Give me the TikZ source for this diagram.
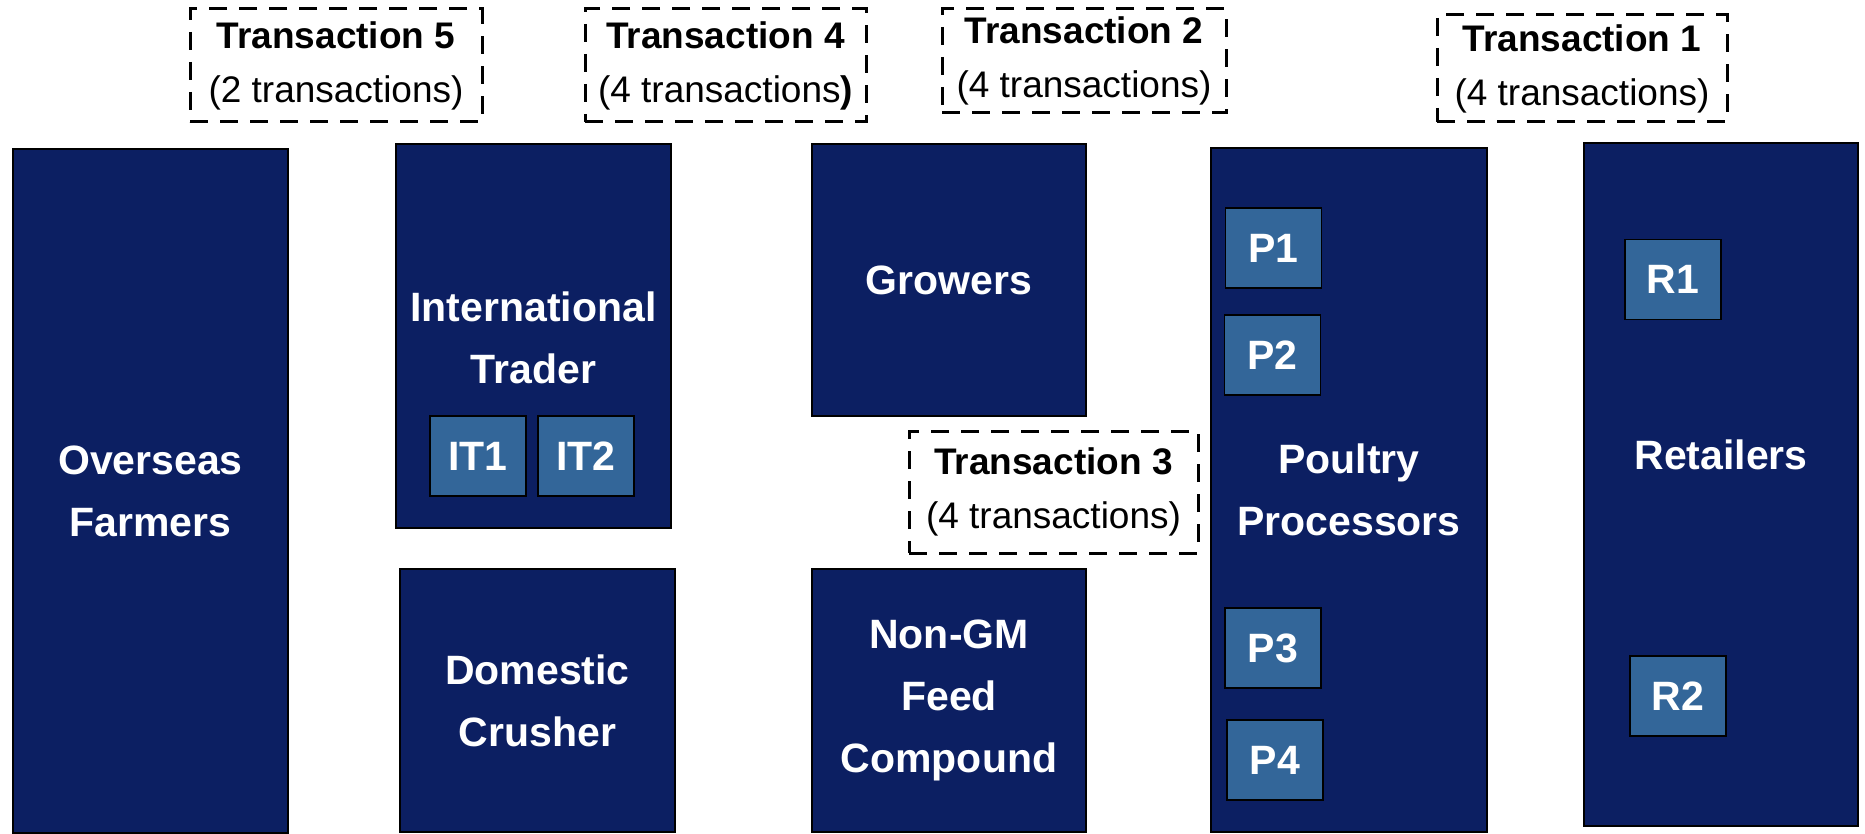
\documentclass[tikz,border=0pt]{standalone}
\usepackage{fontspec}
\setmainfont{Liberation Sans}

\definecolor{chainblue}{RGB}{12,31,98}
\definecolor{memberblue}{RGB}{51,102,153}
\newcommand{\chainfont}{\fontsize{41}{62}\selectfont\bfseries}
\newcommand{\transfont}{\fontsize{37}{54}\selectfont}

\begin{document}
\begin{tikzpicture}[x=1pt, y=-1pt,
    stage/.style={draw=black, line width=1.2pt, fill=chainblue, text=white,
        font=\chainfont, align=center, inner sep=0pt},
    member/.style={draw=black, line width=1.5pt, fill=memberblue, text=white,
        font=\chainfont, minimum width=96pt, minimum height=80pt, inner sep=0pt},
    trans/.style={draw=black, line width=3pt, dash pattern=on 18pt off 12pt,
        font=\transfont, align=center, inner sep=0pt}]

    \useasboundingbox (0, 0) rectangle (1865, 834);

    % Звенья цепи
    \node[stage, minimum width=275pt, minimum height=684pt] (farmers) at (150.5, 491) {Overseas\\Farmers};
    \node[stage, minimum width=275pt, minimum height=384pt] (trader) at (533.5, 336) {};
    \node[text=white, font=\chainfont, align=center] (traderlbl) at (533.5, 338) {International\\Trader};
    \node[stage, minimum width=275pt, minimum height=263pt] (crusher) at (537.5, 700.5) {Domestic\\Crusher};
    \node[stage, minimum width=274pt, minimum height=272pt] (growers) at (949, 280) {Growers};
    \node[stage, minimum width=274pt, minimum height=263pt] (feed) at (949, 700.5) {Non-GM\\Feed\\Compound};
    \node[stage, minimum width=276pt, minimum height=684pt] (poultry) at (1349, 490) {Poultry\\Processors};
    \node[stage, minimum width=274pt, minimum height=683pt] (retail) at (1721, 484.5) {};
    \node[text=white, font=\chainfont] (retaillbl) at (1721, 455) {Retailers};

    % Участники
    \node[member] (it1) at (478, 456) {IT1};
    \node[member] (it2) at (586, 456) {IT2};
    \node[member] (p1) at (1273.5, 248) {P1};
    \node[member] (p2) at (1272.5, 355) {P2};
    \node[member] (p3) at (1273, 648) {P3};
    \node[member] (p4) at (1275, 760) {P4};
    \node[member] (r1) at (1673, 279.5) {R1};
    \node[member] (r2) at (1678, 696) {R2};

    % Сделки
    \node[trans, minimum width=292pt, minimum height=113pt] (t5) at (336, 65.5)
        {\textbf{Transaction 5}\\(2 transactions)};
    \node[trans, minimum width=281pt, minimum height=113pt] (t4) at (725.5, 65.5)
        {\textbf{Transaction 4}\\(4 transactions\textbf{)}};
    \node[trans, minimum width=284pt, minimum height=104pt] (t2) at (1084, 61)
        {\textbf{Transaction 2}\\(4 transactions)};
    \node[trans, minimum width=290pt, minimum height=107pt] (t1) at (1582, 68.5)
        {\textbf{Transaction 1}\\(4 transactions)};
    \node[trans, minimum width=289pt, minimum height=122pt] (t3) at (1053.5, 492)
        {\textbf{Transaction 3}\\(4 transactions)};

\end{tikzpicture}
\end{document}
